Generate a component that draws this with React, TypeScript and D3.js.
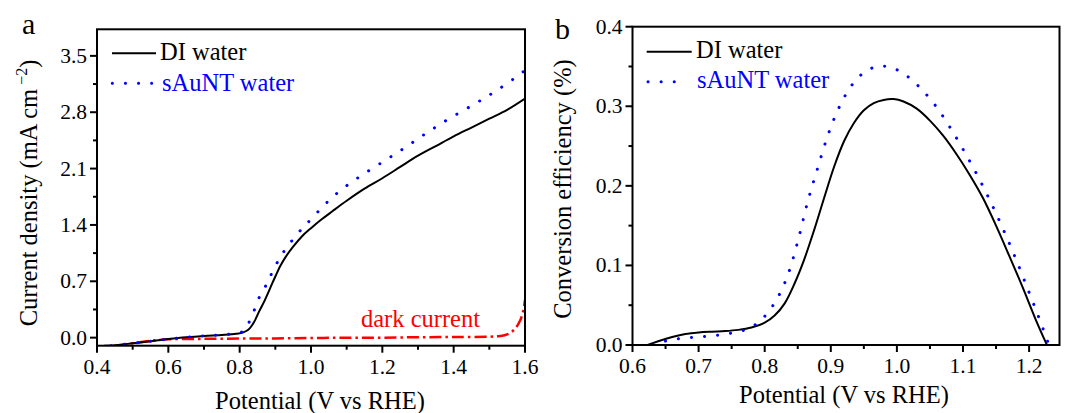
import React from "react";
import * as d3 from "d3";

// ---------- Panel a data ----------
const potA_DI = [0.42, 0.46, 0.5, 0.55, 0.6, 0.65, 0.7, 0.75, 0.79, 0.81, 0.825, 0.84, 0.855, 0.87, 0.885, 0.9, 0.915, 0.93, 0.95, 0.975, 1.0, 1.03, 1.06, 1.1, 1.15, 1.2, 1.25, 1.3, 1.35, 1.4, 1.45, 1.5, 1.55, 1.6];
const curA_DI = [-0.1, -0.09, -0.07, -0.045, -0.018, 0.005, 0.022, 0.034, 0.048, 0.065, 0.1, 0.19, 0.33, 0.46, 0.61, 0.76, 0.9, 1.01, 1.13, 1.26, 1.36, 1.47, 1.57, 1.7, 1.85, 1.98, 2.12, 2.26, 2.38, 2.5, 2.61, 2.72, 2.83, 2.97];

const potA_Au = [0.44, 0.5, 0.55, 0.6, 0.65, 0.7, 0.75, 0.8, 0.815, 0.825, 0.84, 0.855, 0.875, 0.89, 0.91, 0.93, 0.955, 0.98, 1.0, 1.04, 1.08, 1.13, 1.2, 1.26, 1.32, 1.38, 1.45, 1.51, 1.57, 1.6];
const curA_Au = [-0.1, -0.07, -0.045, -0.018, 0.005, 0.022, 0.035, 0.06, 0.1, 0.18, 0.33, 0.5, 0.66, 0.8, 0.97, 1.11, 1.25, 1.38, 1.47, 1.66, 1.82, 1.98, 2.18, 2.35, 2.53, 2.7, 2.88, 3.04, 3.22, 3.32];

const potA_Dark = [0.45, 0.5, 0.55, 0.6, 0.7, 0.8, 0.9, 1.0, 1.1, 1.2, 1.3, 1.4, 1.5, 1.53, 1.55, 1.57, 1.585, 1.595, 1.6];
const curA_Dark = [-0.1, -0.07, -0.04, -0.02, -0.015, -0.012, -0.01, -0.005, 0.0, 0.0, 0.005, 0.008, 0.012, 0.02, 0.04, 0.1, 0.2, 0.33, 0.47];

const xTicksA = [0.4, 0.6, 0.8, 1.0, 1.2, 1.4, 1.6];
const yTicksA = [0.0, 0.7, 1.4, 2.1, 2.8, 3.5];

// ---------- Panel b data ----------
const potB_DI = [0.623, 0.64, 0.66, 0.68, 0.7, 0.72, 0.74, 0.76, 0.78, 0.8, 0.815, 0.83, 0.845, 0.86, 0.875, 0.89, 0.905, 0.92, 0.935, 0.95, 0.965, 0.98, 0.995, 1.01, 1.03, 1.05, 1.07, 1.09, 1.11, 1.13, 1.15, 1.17, 1.19, 1.21, 1.227];
const effB_DI = [0, 0.005, 0.01, 0.0138, 0.0158, 0.0168, 0.0175, 0.019, 0.022, 0.028, 0.037, 0.052, 0.077, 0.108, 0.145, 0.185, 0.224, 0.256, 0.279, 0.295, 0.304, 0.308, 0.309, 0.306, 0.297, 0.282, 0.263, 0.24, 0.214, 0.185, 0.15, 0.112, 0.073, 0.032, 0.0];

const potB_Au = [0.631, 0.65, 0.67, 0.69, 0.71, 0.73, 0.75, 0.77, 0.79, 0.805, 0.82, 0.835, 0.85, 0.865, 0.88, 0.895, 0.91, 0.925, 0.94, 0.955, 0.97, 0.985, 1.0, 1.02, 1.04, 1.06, 1.08, 1.1, 1.12, 1.14, 1.16, 1.18, 1.2, 1.215, 1.23];
const effB_Au = [0.0, 0.005, 0.008, 0.0095, 0.0108, 0.0125, 0.015, 0.019, 0.028, 0.041, 0.06, 0.088, 0.13, 0.18, 0.222, 0.262, 0.294, 0.318, 0.335, 0.345, 0.35, 0.35, 0.346, 0.335, 0.319, 0.299, 0.274, 0.246, 0.216, 0.183, 0.147, 0.108, 0.066, 0.034, 0.0];

const xTicksB = [0.6, 0.7, 0.8, 0.9, 1.0, 1.1, 1.2];
const yTicksB = [0.0, 0.1, 0.2, 0.3, 0.4];

const legendLabels = ["DI water", "sAuNT water"];

const FONT = '"Liberation Serif", "Times New Roman", Times, serif';
const BLUE = "#0000ff";
const RED = "#ff0000";

type Pt = [number, number];
const zip = (xs: number[], ys: number[]): Pt[] => xs.map((x, i) => [x, ys[i]]);

function Panel(props: {
  x: d3.ScaleLinear<number, number>;
  y: d3.ScaleLinear<number, number>;
  xTicks: number[];
  yTicks: number[];
  xMinor: number[];
  yMinor: number[];
  xFmt: (v: number) => string;
  yFmt: (v: number) => string;
  children?: React.ReactNode;
}) {
  const { x, y } = props;
  const [x0, x1] = x.range();
  const [y0, y1] = y.range();
  return (
    <g>
      {props.children}
      <rect x={x0} y={y1} width={x1 - x0} height={y0 - y1} fill="none" stroke="#000" strokeWidth={2} />
      {props.xTicks.map((t) => (
        <g key={"xt" + t}>
          <line x1={x(t)} x2={x(t)} y1={y0} y2={y0 + 7} stroke="#000" strokeWidth={2} />
          <text x={x(t)} y={y0 + 28} textAnchor="middle" fontSize={21.5} fontFamily={FONT}>
            {props.xFmt(t)}
          </text>
        </g>
      ))}
      {props.xMinor.map((t) => (
        <line key={"xm" + t} x1={x(t)} x2={x(t)} y1={y0} y2={y0 + 4} stroke="#000" strokeWidth={2} />
      ))}
      {props.yTicks.map((t) => (
        <g key={"yt" + t}>
          <line x1={x0 - 7} x2={x0} y1={y(t)} y2={y(t)} stroke="#000" strokeWidth={2} />
          <text x={x0 - 10} y={y(t) + 7} textAnchor="end" fontSize={21.5} fontFamily={FONT}>
            {props.yFmt(t)}
          </text>
        </g>
      ))}
      {props.yMinor.map((t) => (
        <line key={"ym" + t} x1={x0 - 4} x2={x0} y1={y(t)} y2={y(t)} stroke="#000" strokeWidth={2} />
      ))}
    </g>
  );
}

export default function App() {
  // Panel a scales
  const xA = d3.scaleLinear().domain([0.4, 1.6]).range([97, 525]);
  const yA = d3.scaleLinear().domain([-0.1, 3.83]).range([345.7, 29.3]);
  // Panel b scales
  const xB = d3.scaleLinear().domain([0.6, 1.246]).range([632.5, 1059.5]);
  const yB = d3.scaleLinear().domain([0, 0.4]).range([345, 26.7]);

  const curve = d3.curveCatmullRom.alpha(0.5);
  const lineA = d3.line<Pt>().x((d) => xA(d[0])).y((d) => yA(d[1])).curve(curve);
  const lineB = d3.line<Pt>().x((d) => xB(d[0])).y((d) => yB(d[1])).curve(curve);

  const xMinorA = d3.range(0.5, 1.6, 0.2).map((v) => +v.toFixed(2));
  const yMinorA = d3.range(0.35, 3.6, 0.7).map((v) => +v.toFixed(2));
  const xMinorB = d3.range(0.65, 1.25, 0.1).map((v) => +v.toFixed(2));
  const yMinorB = d3.range(0.05, 0.4, 0.1).map((v) => +v.toFixed(2));

  const dotted = { stroke: BLUE, strokeWidth: 3, strokeLinecap: "round" as const, strokeDasharray: "0.1 13", fill: "none" };

  return (
    <svg width={1066} height={413} style={{ position: "absolute", left: 0, top: 0, background: "#fff" }} fontFamily={FONT}>
      <rect x={0} y={0} width={1066} height={413} fill="#fff" />
      <defs>
        <clipPath id="clipA">
          <rect x={97} y={29.3} width={428} height={316.4} />
        </clipPath>
        <clipPath id="clipB">
          <rect x={632.5} y={26.7} width={427} height={318.3} />
        </clipPath>
      </defs>
      {/* ---------- Panel a ---------- */}
      <Panel x={xA} y={yA} xTicks={xTicksA} yTicks={yTicksA} xMinor={xMinorA} yMinor={yMinorA}
        xFmt={(v) => v.toFixed(1)} yFmt={(v) => v.toFixed(1)}>
        <g clipPath="url(#clipA)">
          <path d={lineA(zip(potA_Dark, curA_Dark)) || ""} fill="none" stroke={RED} strokeWidth={2.5} strokeDasharray="12 4 2.5 4" />
          <path d={lineA(zip(potA_DI, curA_DI)) || ""} fill="none" stroke="#000" strokeWidth={2} />
          <path d={lineA(zip(potA_Au, curA_Au)) || ""} {...dotted} />
        </g>
      </Panel>
      <text x={22} y={34} fontSize={30} fontFamily={FONT}>a</text>
      {/* legend a */}
      <line x1={112} x2={156} y1={53.3} y2={53.3} stroke="#000" strokeWidth={2} />
      <text x={160} y={60} fontSize={24.5}>{legendLabels[0]}</text>
      <line x1={112.3} x2={152} y1={83.3} y2={83.3} {...dotted} />
      <text x={162} y={91} fontSize={24.5} fill={BLUE}>{legendLabels[1]}</text>
      <text x={361} y={326.7} fontSize={24.5} fill={RED}>dark current</text>
      <text x={320} y={409} fontSize={24.5} textAnchor="middle">Potential (V vs RHE)</text>
      <text transform="translate(37,193) rotate(-90)" fontSize={24.5} textAnchor="middle">
        Current density (mA cm
        <tspan dx={4} dy={-10} fontSize={16}>−2</tspan>
        <tspan dy={10}>)</tspan>
      </text>

      {/* ---------- Panel b ---------- */}
      <Panel x={xB} y={yB} xTicks={xTicksB} yTicks={yTicksB} xMinor={xMinorB} yMinor={yMinorB}
        xFmt={(v) => v.toFixed(1)} yFmt={(v) => v.toFixed(1)}>
        <g clipPath="url(#clipB)">
          <path d={lineB(zip(potB_DI, effB_DI)) || ""} fill="none" stroke="#000" strokeWidth={2} />
          <path d={lineB(zip(potB_Au, effB_Au)) || ""} {...dotted} />
        </g>
      </Panel>
      <text x={555} y={39} fontSize={30} fontFamily={FONT}>b</text>
      <line x1={646.7} x2={691.7} y1={51.7} y2={51.7} stroke="#000" strokeWidth={2} />
      <text x={696} y={57.7} fontSize={24.5}>{legendLabels[0]}</text>
      <line x1={648} x2={687} y1={81.7} y2={81.7} {...dotted} />
      <text x={697} y={88.3} fontSize={24.5} fill={BLUE}>{legendLabels[1]}</text>
      <text x={844} y={403} fontSize={24.5} textAnchor="middle">Potential (V vs RHE)</text>
      <text transform="translate(571,189) rotate(-90)" fontSize={24.5} textAnchor="middle">
        Conversion efficiency (%)
      </text>
    </svg>
  );
}
